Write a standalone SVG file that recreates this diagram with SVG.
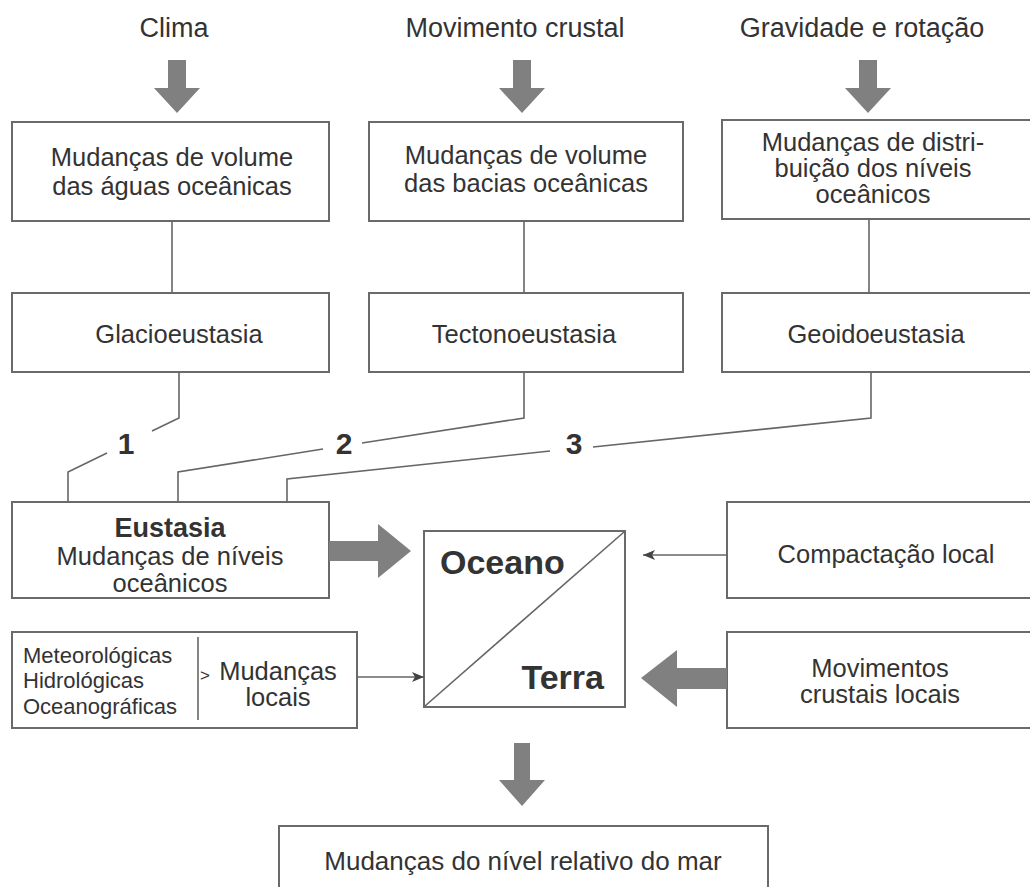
<svg xmlns="http://www.w3.org/2000/svg" width="1030" height="887" viewBox="0 0 1030 887">
<defs>
<style>
text{font-family:"Liberation Sans",Arial,sans-serif;fill:#333;}
.t{font-size:25.5px;text-anchor:middle;}
.h{font-size:27px;text-anchor:middle;}
.s{font-size:22px;}
.b{font-weight:bold;}
.box{fill:#fff;stroke:#6a6a6a;stroke-width:2;}
.ln{fill:none;stroke:#666;stroke-width:1.6;}
.ar{fill:#808080;stroke:none;}
</style>
<marker id="tip" viewBox="0 0 12 10" refX="12" refY="5" markerWidth="12" markerHeight="10" markerUnits="userSpaceOnUse" orient="auto">
<path d="M0,0 L12,5 L0,10 L3,5 Z" fill="#444"/>
</marker>
</defs>
<rect width="1030" height="887" fill="#fff"/>

<g id="sources">
<text class="h" x="174" y="37">Clima</text>
<text class="h" x="515" y="37">Movimento crustal</text>
<text class="h" x="862" y="37">Gravidade e rotação</text>
</g>

<g id="n-volume-aguas"><rect class="box" x="12" y="122" width="317" height="99"/>
<text class="t" x="172" y="166">Mudanças de volume</text><text class="t" x="172" y="195">das águas oceânicas</text></g>
<g id="n-volume-bacias"><rect class="box" x="369" y="122" width="314" height="99"/>
<text class="t" x="526" y="164">Mudanças de volume</text><text class="t" x="526" y="192">das bacias oceânicas</text></g>
<g id="n-distribuicao"><rect class="box" x="722" y="120" width="320" height="99"/>
<text class="t" x="873" y="151">Mudanças de distri-</text><text class="t" x="873" y="177">buição dos níveis</text><text class="t" x="873" y="203">oceânicos</text></g>

<g id="n-glacio"><rect class="box" x="12" y="293" width="317" height="79"/>
<text class="t" x="179" y="343">Glacioeustasia</text></g>
<g id="n-tectono"><rect class="box" x="369" y="293" width="314" height="79"/>
<text class="t" x="524" y="343">Tectonoeustasia</text></g>
<g id="n-geoido"><rect class="box" x="722" y="293" width="320" height="79"/>
<text class="t" x="876" y="343">Geoidoeustasia</text></g>

<g id="n-eustasia"><rect class="box" x="12" y="502" width="317" height="96"/>
<text class="t b" x="170" y="537" style="font-size:27px">Eustasia</text>
<text class="t" x="170" y="565">Mudanças de níveis</text><text class="t" x="170" y="592">oceânicos</text></g>

<g id="n-oceano-terra"><rect class="box" x="424" y="531" width="201" height="176"/>
<line class="ln" x1="425" y1="706" x2="624" y2="532"/>
<text class="b" x="440" y="574" style="font-size:34px">Oceano</text>
<text class="b" x="604" y="689" style="font-size:34px;text-anchor:end">Terra</text></g>

<g id="n-compactacao"><rect class="box" x="727" y="502" width="320" height="96"/>
<text class="t" x="886" y="563">Compactação local</text></g>

<g id="n-movimentos"><rect class="box" x="727" y="632" width="320" height="96"/>
<text class="t" x="880" y="677">Movimentos</text><text class="t" x="880" y="703">crustais locais</text></g>

<g id="n-mudancas-locais"><rect class="box" x="12" y="632" width="345" height="96"/>
<line class="ln" x1="198" y1="637" x2="198" y2="720"/>
<text class="s" x="23" y="663">Meteorológicas</text>
<text class="s" x="23" y="688">Hidrológicas</text>
<text class="s" x="23" y="714">Oceanográficas</text>
<text x="200" y="681" style="font-size:17px">&gt;</text>
<text class="t" x="278" y="680">Mudanças</text>
<text class="t" x="278" y="706">locais</text></g>

<g id="n-nivel-relativo"><rect class="box" x="279" y="826" width="489" height="80"/>
<text class="t" x="523" y="870" style="font-size:26px">Mudanças do nível relativo do mar</text></g>

<g id="connectors">
<polygon class="ar" points="168,60 186,60 186,88 200,88 177,113 154,88 168,88"/>
<polygon class="ar" points="513,60 531,60 531,88 545,88 522,113 499,88 513,88"/>
<polygon class="ar" points="859,60 877,60 877,88 891,88 868,113 845,88 859,88"/>
<line class="ln" x1="172" y1="221" x2="172" y2="293"/>
<line class="ln" x1="524" y1="221" x2="524" y2="293"/>
<line class="ln" x1="869" y1="219" x2="869" y2="293"/>
<polyline class="ln" points="179,372 179,418 152,431"/>
<polyline class="ln" points="107,453 68,472 68,502"/>
<text class="b" x="126" y="454" style="font-size:30px;text-anchor:middle">1</text>
<polyline class="ln" points="524,372 524,418 362,443"/>
<polyline class="ln" points="323,449 178,472 178,502"/>
<text class="b" x="344" y="454" style="font-size:30px;text-anchor:middle">2</text>
<polyline class="ln" points="871,372 871,418 593,447"/>
<polyline class="ln" points="550,451 287,479 287,502"/>
<text class="b" x="574" y="454" style="font-size:30px;text-anchor:middle">3</text>
<polygon class="ar" points="329,541 378,541 378,524 411,551 378,578 378,561 329,561"/>
<polygon class="ar" points="727,668 677,668 677,650 641,678 677,707 677,689 727,689"/>
<line class="ln" x1="727" y1="555" x2="643" y2="555" marker-end="url(#tip)"/>
<line class="ln" x1="357" y1="677" x2="424" y2="677" marker-end="url(#tip)"/>
<polygon class="ar" points="514,743 530,743 530,780 545,780 522,806 499,780 514,780"/>
</g>
</svg>
